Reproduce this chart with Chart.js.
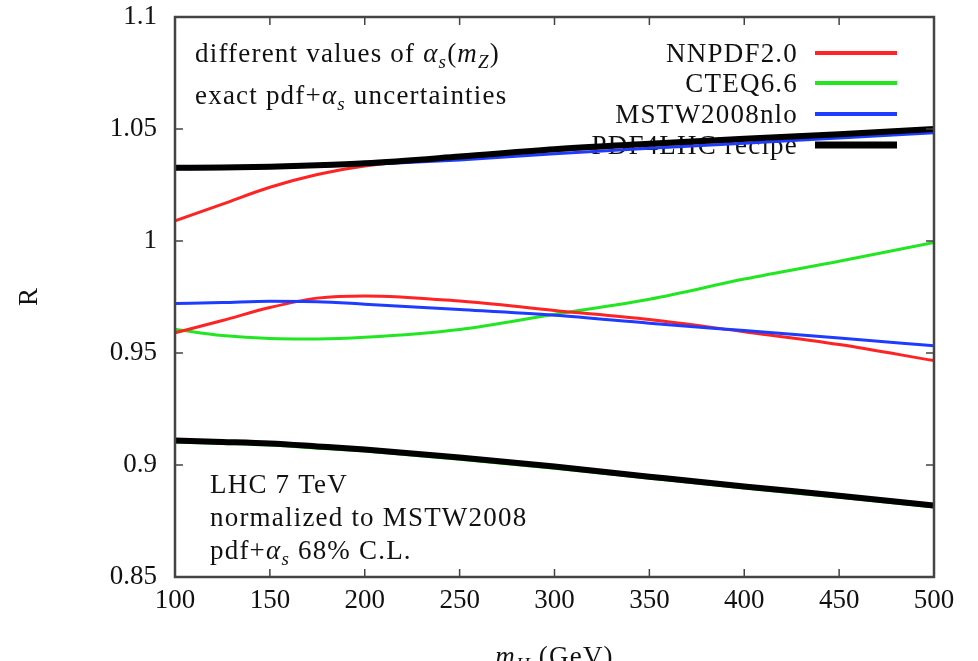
<!DOCTYPE html>
<html><head><meta charset="utf-8">
<script src="https://cdn.jsdelivr.net/npm/chart.js@4/dist/chart.umd.min.js"></script>
<style>html,body{margin:0;padding:0;background:#fff;overflow:hidden}</style>
</head><body>
<canvas id="c" width="978" height="661"></canvas>
<script>
// ---- data ----
const masses      = [100, 125, 150, 175, 200, 250, 300, 350, 400, 450, 500];
const pdf4lhcUp   = [1.0327, 1.0328, 1.0332, 1.0338, 1.0347, 1.0377, 1.0410, 1.0434, 1.0456, 1.0477, 1.0500];
const pdf4lhcDown = [0.9109, 0.9103, 0.9096, 0.9083, 0.9069, 0.9033, 0.8993, 0.8948, 0.8904, 0.8863, 0.8819];
const mstwUp      = [1.0322, 1.0324, 1.0328, 1.0334, 1.0342, 1.0362, 1.0390, 1.0414, 1.0436, 1.0460, 1.0483];
const mstwDown    = [0.9721, 0.9725, 0.9731, 0.9729, 0.9718, 0.9694, 0.9668, 0.9633, 0.9600, 0.9567, 0.9532];
const nnpdfUp     = [1.0090, 1.0165, 1.0240, 1.0297, 1.0335, 1.0370, 1.0404, 1.0428, 1.0450, 1.0471, 1.0494];
const nnpdfDown   = [0.9590, 0.9645, 0.9703, 0.9745, 0.9755, 0.9732, 0.9690, 0.9650, 0.9595, 0.9538, 0.9466];
const cteqUp      = [0.9606, 0.9578, 0.9565, 0.9563, 0.9570, 0.9605, 0.9673, 0.9740, 0.9830, 0.9910, 0.9993];
const cteqDown    = [0.9102, 0.9096, 0.9089, 0.9076, 0.9062, 0.9026, 0.8986, 0.8941, 0.8897, 0.8856, 0.8812];
const xTicks      = [100, 150, 200, 250, 300, 350, 400, 450, 500];
const yTicks      = [0.85, 0.9, 0.95, 1, 1.05, 1.1];
const legendNames = ['NNPDF2.0', 'CTEQ6.6', 'MSTW2008nlo', 'PDF4LHC recipe'];

const RED = 'rgb(255,35,35)', GREEN = 'rgb(35,230,35)', BLUE = 'rgb(30,60,255)', BLACK = '#000';
const SERIF = '"Liberation Serif", "DejaVu Serif", serif';
const FS = 27;
const LS = '1.2px';

function pts(vals) { return masses.map((m, i) => ({x: m, y: vals[i]})); }
function ds(label, vals, color, w) {
  return {label, data: pts(vals), borderColor: color, borderWidth: w, pointRadius: 0,
          fill: false, cubicInterpolationMode: 'monotone'};
}

function drawRich(ctx, segs, x, y, align, size) {
  const fontOf = s => (s.it ? 'italic ' : '') + (s.sub ? Math.round(size * 0.7) : size) + 'px ' + SERIF;
  ctx.letterSpacing = LS;
  let total = 0;
  segs.forEach(s => { ctx.font = fontOf(s); s.w = ctx.measureText(s.t).width; total += s.w; });
  let cx = align === 'center' ? x - total / 2 : align === 'right' ? x - total : x;
  ctx.textAlign = 'left';
  ctx.textBaseline = 'alphabetic';
  segs.forEach(s => {
    ctx.font = fontOf(s);
    ctx.fillText(s.t, cx, s.sub ? y + size * 0.22 : y);
    cx += s.w;
  });
  ctx.letterSpacing = '0px';
}

const deco = {
  id: 'deco',
  beforeDatasetsDraw(chart) {
    const ctx = chart.ctx;
    ctx.save();
    ctx.fillStyle = '#111';
    // annotations
    drawRich(ctx, [{t: 'different values of '}, {t: 'α', it: true}, {t: 's', it: true, sub: true},
                   {t: '('}, {t: 'm', it: true}, {t: 'Z', it: true, sub: true}, {t: ')'}], 195, 62, 'left', FS);
    drawRich(ctx, [{t: 'exact pdf+'}, {t: 'α', it: true}, {t: 's', it: true, sub: true},
                   {t: ' uncertainties'}], 195, 104, 'left', FS);
    drawRich(ctx, [{t: 'LHC 7 TeV'}], 210, 493, 'left', FS);
    drawRich(ctx, [{t: 'normalized to MSTW2008'}], 210, 526, 'left', FS);
    drawRich(ctx, [{t: 'pdf+'}, {t: 'α', it: true}, {t: 's', it: true, sub: true}, {t: ' 68% C.L.'}], 210, 559, 'left', FS);
    // legend
    const cols = [RED, GREEN, BLUE, BLACK];
    const widths = [4, 4, 4, 7];
    const lineY = [53, 83, 114, 145];
    legendNames.forEach((n, i) => {
      ctx.fillStyle = '#111';
      drawRich(ctx, [{t: n}], 798, lineY[i] + 9, 'right', FS);
      ctx.strokeStyle = cols[i];
      ctx.lineWidth = widths[i];
      ctx.beginPath();
      ctx.moveTo(815, lineY[i]);
      ctx.lineTo(897, lineY[i]);
      ctx.stroke();
    });
    ctx.restore();
  },
  afterDatasetsDraw(chart) {
    const ctx = chart.ctx, a = chart.chartArea;
    const xs = chart.scales.x, ys = chart.scales.y;
    ctx.save();
    ctx.strokeStyle = '#444';
    ctx.lineWidth = 1.5;
    ctx.beginPath();
    xTicks.forEach(v => {
      const p = xs.getPixelForValue(v);
      ctx.moveTo(p, a.bottom); ctx.lineTo(p, a.bottom - 8);
      ctx.moveTo(p, a.top); ctx.lineTo(p, a.top + 8);
    });
    yTicks.forEach(v => {
      const p = ys.getPixelForValue(v);
      ctx.moveTo(a.left, p); ctx.lineTo(a.left + 8, p);
      ctx.moveTo(a.right, p); ctx.lineTo(a.right - 8, p);
    });
    ctx.stroke();
    ctx.lineWidth = 2.5;
    ctx.strokeRect(a.left, a.top, a.right - a.left, a.bottom - a.top);
    ctx.restore();
  },
  afterDraw(chart) {
    const ctx = chart.ctx, a = chart.chartArea;
    ctx.save();
    ctx.fillStyle = '#111';
    drawRich(ctx, [{t: 'm', it: true}, {t: 'H', it: true, sub: true}, {t: ' (GeV)'}], (a.left + a.right) / 2, 665, 'center', FS);
    ctx.translate(30, (a.top + a.bottom) / 2);
    ctx.rotate(-Math.PI / 2);
    ctx.font = FS + 'px ' + SERIF;
    ctx.textAlign = 'center';
    ctx.textBaseline = 'middle';
    ctx.fillText('R', 0, 0);
    ctx.restore();
  }
};

new Chart(document.getElementById('c'), {
  type: 'line',
  data: {
    datasets: [
      ds('PDF4LHC recipe', pdf4lhcUp, BLACK, 6),
      ds('PDF4LHC recipe (lower)', pdf4lhcDown, BLACK, 6),
      ds('MSTW2008nlo', mstwUp, BLUE, 3),
      ds('MSTW2008nlo (lower)', mstwDown, BLUE, 3),
      ds('NNPDF2.0', nnpdfUp, RED, 3),
      ds('NNPDF2.0 (lower)', nnpdfDown, RED, 3),
      ds('CTEQ6.6', cteqUp, GREEN, 3),
      ds('CTEQ6.6 (lower)', cteqDown, GREEN, 3)
    ]
  },
  options: {
    responsive: false,
    animation: false,
    devicePixelRatio: 1,
    layout: {padding: {left: 0, right: 44, top: 17, bottom: 0}},
    plugins: {legend: {display: false}, tooltip: {enabled: false}},
    scales: {
      x: {
        type: 'linear', min: 100, max: 500,
        afterBuildTicks: s => { s.ticks = xTicks.map(v => ({value: v})); },
        ticks: {font: {family: SERIF, size: FS}, color: '#111', padding: 8, maxRotation: 0, autoSkip: false},
        grid: {drawOnChartArea: false, drawTicks: false},
        border: {display: false},
        afterFit: s => { s.height = 84; s.paddingLeft = 0; s.paddingRight = 0; }
      },
      y: {
        type: 'linear', min: 0.85, max: 1.1,
        afterBuildTicks: s => { s.ticks = yTicks.map(v => ({value: v})); },
        ticks: {font: {family: SERIF, size: FS}, color: '#111', padding: 18, autoSkip: false,
                callback: v => String(Number(v.toFixed(2)))},
        grid: {drawOnChartArea: false, drawTicks: false},
        border: {display: false},
        afterFit: s => { s.width = 175; s.paddingTop = 0; s.paddingBottom = 0; }
      }
    }
  },
  plugins: [deco]
});
</script>
</body></html>
